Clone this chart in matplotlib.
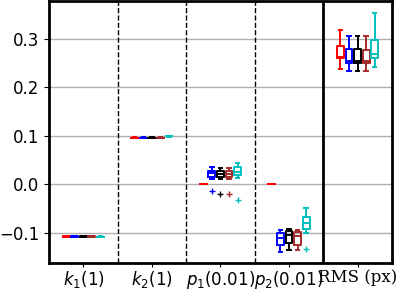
import matplotlib
matplotlib.use("Agg")
import matplotlib.pyplot as plt

plt.rcParams["font.size"] = 12

# parameters on the x axis
params = ["$k_1$(1)", "$k_2$(1)", "$p_1$(0.01)", "$p_2$(0.01)", "RMS (px)"]
colors = ["r", "b", "k", "brown", "c"]

# box statistics, one row per method, one column per parameter
medians = [
    [-0.1070, 0.0960, 0.000, 0.000, 0.262],
    [-0.1070, 0.0960, 0.023, -0.110, 0.254],
    [-0.1070, 0.0960, 0.022, -0.105, 0.254],
    [-0.1070, 0.0960, 0.021, -0.106, 0.254],
    [-0.1080, 0.0995, 0.026, -0.080, 0.268],
]
q1 = [
    [-0.1075, 0.0955, 0.000, 0.000, 0.260],
    [-0.1075, 0.0955, 0.016, -0.125, 0.251],
    [-0.1075, 0.0955, 0.016, -0.120, 0.251],
    [-0.1075, 0.0955, 0.016, -0.124, 0.251],
    [-0.1085, 0.0990, 0.019, -0.091, 0.260],
]
q3 = [
    [-0.1065, 0.0965, 0.000, 0.000, 0.286],
    [-0.1065, 0.0965, 0.028, -0.100, 0.279],
    [-0.1065, 0.0965, 0.027, -0.096, 0.279],
    [-0.1065, 0.0965, 0.027, -0.098, 0.278],
    [-0.1075, 0.1000, 0.036, -0.067, 0.298],
]
whislo = [
    [-0.1078, 0.0952, 0.000, 0.000, 0.237],
    [-0.1078, 0.0952, 0.012, -0.139, 0.234],
    [-0.1078, 0.0952, 0.012, -0.135, 0.234],
    [-0.1078, 0.0952, 0.012, -0.135, 0.234],
    [-0.1088, 0.0987, 0.014, -0.100, 0.242],
]
whishi = [
    [-0.1062, 0.0968, 0.000, 0.000, 0.318],
    [-0.1062, 0.0968, 0.036, -0.094, 0.306],
    [-0.1062, 0.0968, 0.034, -0.092, 0.306],
    [-0.1062, 0.0968, 0.034, -0.094, 0.306],
    [-0.1072, 0.1003, 0.045, -0.049, 0.353],
]
outliers = [
    [[], [], [], [], []],
    [[], [], [-0.014], [], []],
    [[], [], [-0.019], [], []],
    [[], [], [-0.019], [], []],
    [[], [], [-0.032], [-0.134], []],
]

fig = plt.figure(figsize=(3.99, 2.89), dpi=100)
ax = fig.add_axes([0.123, 0.090, 0.859, 0.908])

offsets = [-0.25, -0.125, 0.0, 0.125, 0.25]
for m, col in enumerate(colors):
    stats = []
    for j in range(len(params)):
        stats.append(dict(med=medians[m][j], q1=q1[m][j], q3=q3[m][j],
                          whislo=whislo[m][j], whishi=whishi[m][j],
                          fliers=outliers[m][j]))
    pos = [j + 1 + offsets[m] for j in range(len(params))]
    lp = dict(color=col, linewidth=1.4)
    ax.bxp(stats, positions=pos, widths=0.1, manage_ticks=False,
           boxprops=lp, whiskerprops=lp, capprops=lp, medianprops=lp,
           flierprops=dict(marker="+", markeredgecolor=col, markersize=5,
                           linestyle="none"))

for x in [1.5, 2.5, 3.5]:
    ax.axvline(x, color="k", linestyle="--", linewidth=1)
ax.axvline(4.5, color="k", linewidth=2)

ax.set_xlim(0.5, 5.5)
ax.set_ylim(-0.162, 0.379)
ax.set_yticks([-0.1, 0.0, 0.1, 0.2, 0.3])
ax.set_xticks(range(1, 6))
ax.set_xticklabels(params, fontsize=12)
ax.tick_params(axis="x", length=3, pad=1)
ax.get_xticklabels()[4].set_fontfamily("DejaVu Serif")
ax.yaxis.grid(True, color="#b0b0b0", linewidth=1)
ax.set_axisbelow(True)
for s in ax.spines.values():
    s.set_linewidth(2)

plt.savefig("out.png", dpi=100)
